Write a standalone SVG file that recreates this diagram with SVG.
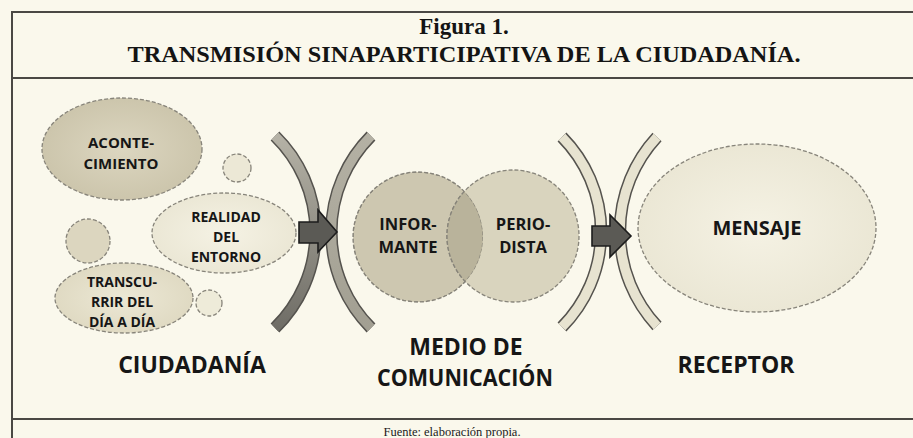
<svg xmlns="http://www.w3.org/2000/svg" width="913" height="438" viewBox="0 0 913 438">
<style>
.frame{stroke:#4a4844;stroke-width:2;fill:none}
.title{font-family:"Liberation Serif","Times New Roman",serif;font-weight:bold;fill:#141414;text-anchor:middle}
.lbl{font-family:"Open Sans","Liberation Sans",sans-serif;font-weight:bold;fill:#161616;text-anchor:middle}
.bub{stroke:#87847a;stroke-width:1.3;stroke-dasharray:4 2}
.arcO{fill:none;stroke:#55534e;stroke-width:12.5}
.arrow{fill:#5b5a55;stroke:#1c1c1c;stroke-width:1.6;stroke-linejoin:miter}
</style>
<defs>
<linearGradient id="g1" gradientUnits="userSpaceOnUse" x1="0" y1="136" x2="0" y2="328">
<stop offset="0" stop-color="#b5b2a6"/><stop offset="1" stop-color="#6f6d66"/>
</linearGradient>
<linearGradient id="g2" gradientUnits="userSpaceOnUse" x1="0" y1="136" x2="0" y2="328">
<stop offset="0" stop-color="#b4b1a4"/><stop offset="1" stop-color="#a29f92"/>
</linearGradient>
<radialGradient id="gA" cx="0.5" cy="0.5" r="0.6">
<stop offset="0" stop-color="#dcd6c0"/><stop offset="1" stop-color="#c9c2a8"/>
</radialGradient>
<radialGradient id="gL" cx="0.5" cy="0.5" r="0.6">
<stop offset="0" stop-color="#f5f2e4"/><stop offset="1" stop-color="#e9e5d2"/>
</radialGradient>
<radialGradient id="gM" cx="0.5" cy="0.5" r="0.6">
<stop offset="0" stop-color="#ece8d5"/><stop offset="1" stop-color="#ddd7bf"/>
</radialGradient>
<clipPath id="clipL"><circle cx="418" cy="237" r="65"/></clipPath>
</defs>
<rect width="913" height="438" fill="#faf8ec"/>

<g id="frame">
<line class="frame" x1="11" y1="12" x2="913" y2="12"/>
<line class="frame" x1="11" y1="78" x2="913" y2="78"/>
<line class="frame" x1="11" y1="419" x2="913" y2="419"/>
<line class="frame" x1="12" y1="11" x2="12" y2="438"/>
</g>

<g id="title">
<text class="title" x="464" y="34" font-size="23">Figura 1.</text>
<text class="title" x="464" y="62" font-size="24" textLength="673" lengthAdjust="spacingAndGlyphs">TRANSMISIÓN SINAPARTICIPATIVA DE LA CIUDADANÍA.</text>
</g>

<g id="ciudadania">
<g id="acontecimiento">
<ellipse class="bub" cx="122" cy="149" rx="80" ry="51" fill="url(#gA)"/>
<text class="lbl" font-size="15" x="121" y="148">ACONTE-</text>
<text class="lbl" font-size="15" x="121" y="169">CIMIENTO</text>
</g>
<circle id="circulo1" class="bub" cx="237" cy="168" r="14" fill="#ece8d6"/>
<circle id="circulo2" class="bub" cx="88" cy="241" r="22" fill="#dcd6bf"/>
<g id="realidad">
<ellipse class="bub" cx="224" cy="233" rx="72" ry="40" fill="url(#gL)"/>
<text class="lbl" font-size="14" x="226" y="222">REALIDAD</text>
<text class="lbl" font-size="14" x="226" y="242">DEL</text>
<text class="lbl" font-size="14" x="226" y="262">ENTORNO</text>
</g>
<g id="transcurrir">
<ellipse class="bub" cx="124" cy="298" rx="69" ry="35" fill="url(#gM)"/>
<text class="lbl" font-size="14" x="122" y="287">TRANSCU-</text>
<text class="lbl" font-size="14" x="122" y="307">RRIR DEL</text>
<text class="lbl" font-size="14" x="122" y="327">DÍA A DÍA</text>
</g>
<circle id="circulo3" class="bub" cx="209" cy="303" r="13" fill="#eeebd9"/>
<text class="lbl" font-size="23" x="192" y="373">CIUDADANÍA</text>
</g>

<g id="medio">
<g id="informante">
<circle class="bub" cx="418" cy="237" r="65" fill="#cdc7b0"/>
</g>
<g id="periodista">
<circle class="bub" cx="513" cy="236" r="66" fill="#d9d4be"/>
<circle cx="513" cy="236" r="66" fill="#b9b39b" clip-path="url(#clipL)" stroke="#87847a" stroke-width="1.3" stroke-dasharray="4 2"/>
<circle cx="418" cy="237" r="65" fill="none" class="bub" clip-path="url(#clipL)"/>
</g>
<text class="lbl" font-size="16.5" x="408" y="230">INFOR-</text>
<text class="lbl" font-size="16.5" x="408" y="253">MANTE</text>
<text class="lbl" font-size="16.5" x="523" y="230">PERIO-</text>
<text class="lbl" font-size="16.5" x="523" y="253">DISTA</text>
<text class="lbl" font-size="23" x="466" y="355">MEDIO DE</text>
<text class="lbl" font-size="23" x="465" y="386" textLength="176" lengthAdjust="spacingAndGlyphs">COMUNICACIÓN</text>
</g>

<g id="receptor">
<g id="mensaje">
<ellipse class="bub" cx="757" cy="228" rx="119" ry="84" fill="url(#gL)"/>
<text class="lbl" font-size="20" x="757" y="235">MENSAJE</text>
</g>
<text class="lbl" font-size="23" x="736" y="373">RECEPTOR</text>
</g>

<g id="connectors">
<path class="arcO" d="M275,136 A134,134 0 0 1 275,328"/>
<path d="M275,136 A134,134 0 0 1 275,328" fill="none" stroke="url(#g1)" stroke-width="9.5"/>
<path class="arcO" d="M371,136 A136,136 0 0 0 371,328"/>
<path d="M371,136 A136,136 0 0 0 371,328" fill="none" stroke="url(#g2)" stroke-width="9.5"/>
<path class="arcO" d="M562,137 A135,135 0 0 1 562,327" stroke="#6e6c66"/>
<path d="M562,137 A135,135 0 0 1 562,327" fill="none" stroke="#e7e3d0" stroke-width="9.5"/>
<path class="arcO" d="M657,137 A139,139 0 0 0 657,326" stroke="#6e6c66"/>
<path d="M657,137 A139,139 0 0 0 657,326" fill="none" stroke="#e7e3d0" stroke-width="9.5"/>
<path class="arrow" d="M299,222 L318,222 L318,210 L337,232 L318,252 L318,243 L299,243 Z"/>
<path class="arrow" d="M592,226 L610,226 L610,215 L631,236 L610,257 L610,246 L592,246 Z"/>
</g>

<text x="452" y="436" font-family="'Liberation Serif','Times New Roman',serif" font-size="12.5" fill="#1a1a1a" text-anchor="middle">Fuente: elaboración propia.</text>
</svg>
